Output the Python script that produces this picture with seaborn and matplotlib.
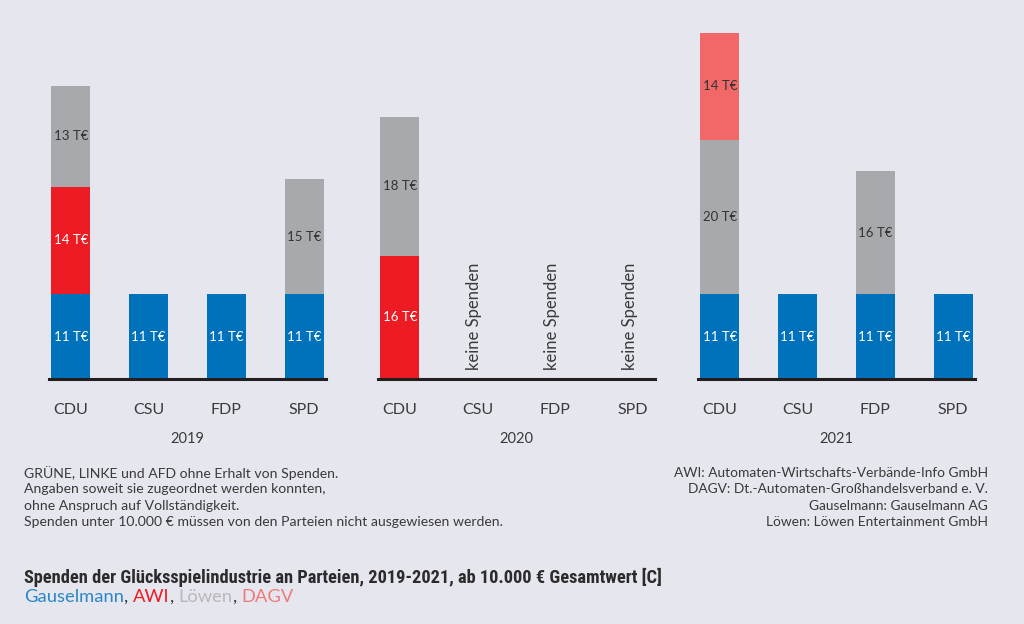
import matplotlib
matplotlib.use("Agg")
import matplotlib.pyplot as plt
from matplotlib import font_manager
import seaborn as sns
import pandas as pd

# ---------------- data ----------------
parties = ["CDU", "CSU", "FDP", "SPD"]
years = ["2019", "2020", "2021"]
sources = ["Gauselmann", "AWI", "Löwen", "DAGV"]

gauselmann_2019 = [11, 11, 11, 11]
awi_2019 = [14, 0, 0, 0]
loewen_2019 = [13, 0, 0, 15]
dagv_2019 = [0, 0, 0, 0]

gauselmann_2020 = [0, 0, 0, 0]
awi_2020 = [16, 0, 0, 0]
loewen_2020 = [18, 0, 0, 0]
dagv_2020 = [0, 0, 0, 0]

gauselmann_2021 = [11, 11, 11, 11]
awi_2021 = [0, 0, 0, 0]
loewen_2021 = [20, 0, 16, 0]
dagv_2021 = [14, 0, 0, 0]

title = "Spenden der Glücksspielindustrie an Parteien, 2019-2021, ab 10.000 € Gesamtwert [C]"
notes_left = ["GRÜNE, LINKE und AFD ohne Erhalt von Spenden.",
              "Angaben soweit sie zugeordnet werden konnten,",
              "ohne Anspruch auf Vollständigkeit.",
              "Spenden unter 10.000 € müssen von den Parteien nicht ausgewiesen werden."]
notes_right = ["AWI: Automaten-Wirtschafts-Verbände-Info GmbH",
               "DAGV: Dt.-Automaten-Großhandelsverband e. V.",
               "Gauselmann: Gauselmann AG",
               "Löwen: Löwen Entertainment GmbH"]
empty_label = "keine Spenden"

# ---------------- style ----------------
BG = "#E5E6EE"
colors = {"Gauselmann": "#0072BC", "AWI": "#ED1C24", "Löwen": "#A7A9AC", "DAGV": "#F26868"}
legend_colors = {"Gauselmann": "#2A87C9", "AWI": "#ED1C24", "Löwen": "#B8B8BC", "DAGV": "#F07A7A"}
label_colors = {"Gauselmann": "white", "AWI": "white", "Löwen": "#333333", "DAGV": "#333333"}
TEXT = "#3A3A3A"

sns.set_theme(style="white")
installed = {f.name for f in font_manager.fontManager.ttflist}
base_font = "Lato" if "Lato" in installed else "DejaVu Sans"
title_font = next((f for f in ["Liberation Sans Narrow", "Roboto Condensed", "Open Sans", "Roboto"]
                   if f in installed), base_font)
plt.rcParams["font.family"] = [base_font, "DejaVu Sans"]

W, H = 1024, 624
fig = plt.figure(figsize=(W / 100, H / 100), dpi=100, facecolor=BG)

data = {
    "2019": [gauselmann_2019, awi_2019, loewen_2019, dagv_2019],
    "2020": [gauselmann_2020, awi_2020, loewen_2020, dagv_2020],
    "2021": [gauselmann_2021, awi_2021, loewen_2021, dagv_2021],
}

panel_left_px = [49, 378, 698]
panel_w_px = 277
axis_bottom_px = 379
axis_top_px = 20
YMAX = (axis_bottom_px - axis_top_px) / 7.7

for yi, year in enumerate(years):
    ax = fig.add_axes([panel_left_px[yi] / W, 1 - axis_bottom_px / H,
                       panel_w_px / W, (axis_bottom_px - axis_top_px) / H])
    ax.set_facecolor(BG)
    series = data[year]
    # cumulative stacks
    cums = []
    running = [0] * len(parties)
    for s in series:
        running = [r + v for r, v in zip(running, s)]
        cums.append(list(running))
    # draw from top of stack down so lower segments cover upper ones
    for si in range(len(sources) - 1, -1, -1):
        df = pd.DataFrame({"party": parties, "value": cums[si]})
        sns.barplot(data=df, x="party", y="value", order=parties, color=colors[sources[si]],
                    width=0.5, saturation=1, linewidth=0, ax=ax, errorbar=None)
    # segment labels
    for pi, party in enumerate(parties):
        bottom = 0
        for si, s in enumerate(series):
            v = s[pi]
            if v > 0:
                ax.text(pi, bottom + v / 2, f"{v} T€", ha="center", va="center",
                        fontsize=9.5, color=label_colors[sources[si]])
            bottom += v
        if bottom == 0:
            ax.text(pi - 0.04, 1.2, empty_label, rotation=90, ha="center", va="bottom",
                    fontsize=12, color=TEXT)
    ax.set_xlim(-0.28, 3.28)
    ax.set_ylim(0, YMAX)
    ax.set_yticks([])
    ax.set_ylabel("")
    for sp in ["top", "right", "left"]:
        ax.spines[sp].set_visible(False)
    ax.spines["bottom"].set_color("#231F20")
    ax.spines["bottom"].set_linewidth(2.2)
    ax.tick_params(axis="x", length=0, pad=17, labelsize=11.5, colors=TEXT)
    ax.set_xlabel(year, fontsize=10.5, color=TEXT, labelpad=11)

# footnotes
line_y = [473, 489, 506, 522]
for t, y in zip(notes_left, line_y):
    fig.text(24 / W, 1 - y / H, t, ha="left", va="center", fontsize=10.1, color=TEXT)
for t, y in zip(notes_right, line_y):
    fig.text(988 / W, 1 - y / H, t, ha="right", va="center", fontsize=9.9, color=TEXT)

# title
fig.text(24 / W, 1 - 577 / H, title, ha="left", va="center", fontsize=13.2,
         color="#2B2B2B", fontweight="bold", family=[title_font, "DejaVu Sans"])

# coloured legend line
fig.canvas.draw()
renderer = fig.canvas.get_renderer()
x = 24
for i, s in enumerate(sources):
    t = fig.text(x / W, 1 - 597 / H, s, ha="left", va="center", fontsize=13.2,
                 color=legend_colors[s])
    x += t.get_window_extent(renderer).width
    if i < len(sources) - 1:
        c = fig.text(x / W, 1 - 597 / H, ", ", ha="left", va="center", fontsize=13.2, color=TEXT)
        x += c.get_window_extent(renderer).width

fig.savefig("out.png", dpi=100, facecolor=BG)
